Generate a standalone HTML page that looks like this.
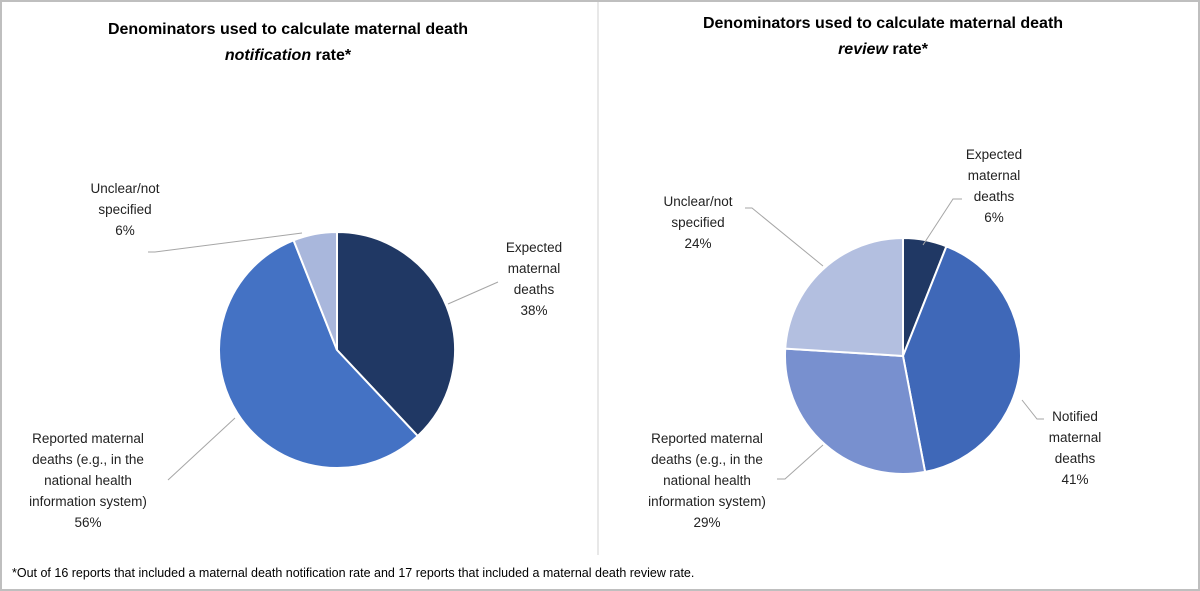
<!DOCTYPE html>
<html><head><meta charset="utf-8"><style>
body{margin:0;background:#fff;}
svg{display:block;font-family:"Liberation Sans",sans-serif;}
.t{font-weight:bold;font-size:16px;fill:#000;}
.l{font-size:13.5px;fill:#222;}
</style></head><body>
<svg id="c" width="1200" height="591" viewBox="0 0 1200 591">
<rect x="1" y="1" width="1198" height="589" fill="#fff" stroke="#bfbfbf" stroke-width="2"/>
<line x1="598" y1="2" x2="598" y2="555" stroke="#d0d0d0" stroke-width="1"/>
<text class="t" x="288" y="34" text-anchor="middle">Denominators used to calculate maternal death</text>
<text class="t" x="288" y="60" text-anchor="middle"><tspan font-style="italic">notification</tspan> rate*</text>
<text class="t" x="883" y="28" text-anchor="middle">Denominators used to calculate maternal death</text>
<text class="t" x="883" y="54" text-anchor="middle"><tspan font-style="italic">review</tspan> rate*</text>
<text x="12" y="577" font-size="12.5" fill="#000">*Out of 16 reports that included a maternal death notification rate and 17 reports that included a maternal death review rate.</text>
<g id="g"></g>
</svg>
<script>
const leftCats=["Expected maternal deaths","Reported maternal deaths","Unclear/not specified"];
const leftVals=[38,56,6];
const leftColors=["#203864","#4472c4","#a9b7dc"];
const rightCats=["Expected maternal deaths","Notified maternal deaths","Reported maternal deaths","Unclear/not specified"];
const rightVals=[6,41,29,24];
const rightColors=["#203864","#3f68b8","#7890cf","#b3bfe0"];
const NS="http://www.w3.org/2000/svg";
const g=document.getElementById('g');
function pie(cx,cy,r,vals,colors,name){
  const tot=vals.reduce((a,b)=>a+b,0);let a0=0;
  vals.forEach((v,i)=>{
    const a1=a0+v/tot*2*Math.PI;
    const x0=cx+r*Math.sin(a0),y0=cy-r*Math.cos(a0),x1=cx+r*Math.sin(a1),y1=cy-r*Math.cos(a1);
    const p=document.createElementNS(NS,'path');
    p.setAttribute('d',`M${cx},${cy}L${x0},${y0}A${r},${r} 0 ${a1-a0>Math.PI?1:0} 1 ${x1},${y1}Z`);
    p.setAttribute('fill',colors[i]);p.setAttribute('stroke','#fff');p.setAttribute('stroke-width','2');
    
    
    g.appendChild(p);a0=a1;
  });
}
pie(337,350,118,leftVals,leftColors,'left');
pie(903,356,118,rightVals,rightColors,'right');
function line(pts,name){
  const p=document.createElementNS(NS,'polyline');
  p.setAttribute('points',pts);p.setAttribute('fill','none');p.setAttribute('stroke','#a6a6a6');p.setAttribute('stroke-width','1');
  
  
  g.appendChild(p);
}
function label(x,y,lines,name){
  const t=document.createElementNS(NS,'text');
  t.setAttribute('class','l');t.setAttribute('text-anchor','middle');
  
  
  lines.forEach((s,i)=>{const ts=document.createElementNS(NS,'tspan');ts.setAttribute('x',x);ts.setAttribute('y',y+i*21);ts.textContent=s;t.appendChild(ts);});
  g.appendChild(t);
}
line("148,252 155,252 302,233","left-leader-unclear");
line("448,304 498,282","left-leader-expected");
line("168,480 235,418","left-leader-reported");
label(125,193,["Unclear/not","specified",leftVals[2]+"%"],"left-label-unclear");
label(534,252,["Expected","maternal","deaths",leftVals[0]+"%"],"left-label-expected");
label(88,443,["Reported maternal","deaths (e.g., in the","national health","information system)",leftVals[1]+"%"],"left-label-reported");
line("962,199 953,199 923,245","right-leader-expected");
line("745,208 752,208 823,266","right-leader-unclear");
line("1022,400 1037,419 1044,419","right-leader-notified");
line("777,479 785,479 823,445","right-leader-reported");
label(994,159,["Expected","maternal","deaths",rightVals[0]+"%"],"right-label-expected");
label(698,206,["Unclear/not","specified",rightVals[3]+"%"],"right-label-unclear");
label(1075,421,["Notified","maternal","deaths",rightVals[1]+"%"],"right-label-notified");
label(707,443,["Reported  maternal","deaths (e.g.,  in the","national health","information system)",rightVals[2]+"%"],"right-label-reported");
</script>
</body></html>
